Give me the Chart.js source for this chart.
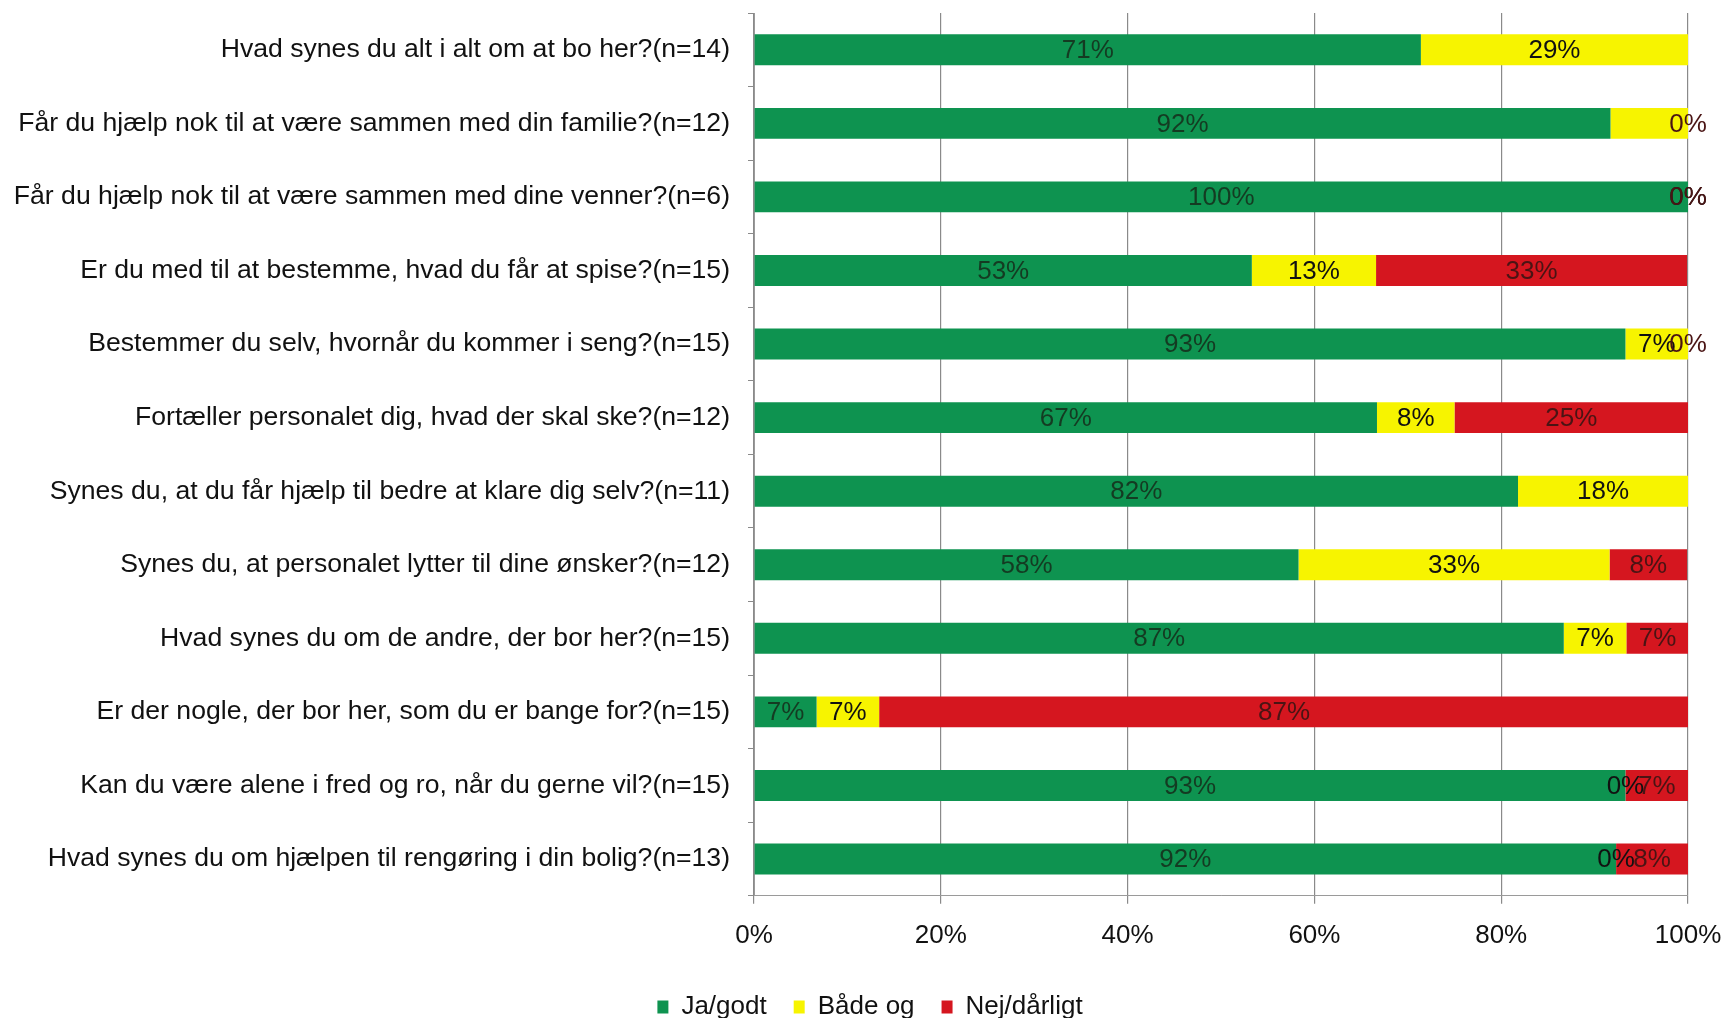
<!DOCTYPE html>
<html>
<head>
<meta charset="utf-8">
<script src="https://cdn.jsdelivr.net/npm/chart.js@4"></script>
<style>
  html, body { margin: 0; padding: 0; background: #fff; }
  #wrap { width: 1725px; height: 1018px; }
</style>
</head>
<body>
<div id="wrap"><canvas id="myCanvas" width="1725" height="1018"></canvas></div>
<script>
const questions = [
  'Hvad synes du alt i alt om at bo her?(n=14)',
  'Får du hjælp nok til at være sammen med din familie?(n=12)',
  'Får du hjælp nok til at være sammen med dine venner?(n=6)',
  'Er du med til at bestemme, hvad du får at spise?(n=15)',
  'Bestemmer du selv, hvornår du kommer i seng?(n=15)',
  'Fortæller personalet dig, hvad der skal ske?(n=12)',
  'Synes du, at du får hjælp til bedre at klare dig selv?(n=11)',
  'Synes du, at personalet lytter til dine ønsker?(n=12)',
  'Hvad synes du om de andre, der bor her?(n=15)',
  'Er der nogle, der bor her, som du er bange for?(n=15)',
  'Kan du være alene i fred og ro, når du gerne vil?(n=15)',
  'Hvad synes du om hjælpen til rengøring i din bolig?(n=13)'
];

const jaGodt    = [71.4, 91.7, 100, 53.3, 93.3, 66.7, 81.8, 58.3, 86.7, 6.7, 93.3, 92.3];
const badeOg    = [28.6, 8.3, 0, 13.3, 6.7, 8.3, 18.2, 33.3, 6.7, 6.7, 0, 0];
const nejDarlig = [null, 0, 0, 33.3, 0, 25, null, 8.3, 6.7, 86.7, 6.7, 7.7];

// labels that are not printed in the original ([dataset, row])
const hiddenLabels = [[1, 1]];

const xTicks = [0, 20, 40, 60, 80, 100];

const fontFam = '"Liberation Sans", Arial, sans-serif';
const fontSize = 26;
const catFontSize = 26.6;

const labelColors = ['#143b22', '#111111', '#4a1414'];

const barLabels = {
  id: 'barLabels',
  afterDatasetsDraw(chart) {
    const ctx = chart.ctx;
    ctx.save();
    ctx.font = fontSize + 'px ' + fontFam;
    ctx.textAlign = 'center';
    ctx.textBaseline = 'middle';
    chart.data.datasets.forEach((ds, di) => {
      const meta = chart.getDatasetMeta(di);
      meta.data.forEach((el, i) => {
        const v = ds.data[i];
        if (v === null || v === undefined) return;
        if (hiddenLabels.some(h => h[0] === di && h[1] === i)) return;
        const p = el.getCenterPoint();
        ctx.fillStyle = labelColors[di];
        ctx.fillText(Math.round(v) + '%', p.x, p.y + 1);
      });
    });
    ctx.restore();
  }
};

// nudge the legend a bit right, the original sits off-centre
const legendShift = {
  id: 'legendShift',
  afterLayout(chart) {
    if (!chart.legend) return;
    chart.legend.left += 26;
    chart.legend.right += 26;
  }
};

const ctx = document.getElementById('myCanvas').getContext('2d');
new Chart(ctx, {
  type: 'bar',
  data: {
    labels: questions,
    datasets: [
      { label: 'Ja/godt', data: jaGodt, backgroundColor: '#0e9350' },
      { label: 'Både og', data: badeOg, backgroundColor: '#f7f400' },
      { label: 'Nej/dårligt', data: nejDarlig, backgroundColor: '#d5161f' }
    ]
  },
  options: {
    indexAxis: 'y',
    responsive: false,
    animation: false,
    barPercentage: 0.42,
    categoryPercentage: 1,
    layout: { padding: { top: 13, right: 37, left: 0, bottom: -12 } },
    scales: {
      x: {
        stacked: true,
        min: 0,
        max: 100,
        afterBuildTicks: (scale) => { scale.ticks = xTicks.map(v => ({ value: v })); },
        afterFit: (scale) => { scale.paddingLeft = 0; scale.paddingRight = 0; },
        ticks: {
          callback: (v) => v + '%',
          color: '#111',
          font: { family: fontFam, size: fontSize },
          padding: 16,
          maxRotation: 0
        },
        grid: { color: '#8a8a8a', lineWidth: 1.2, tickLength: 8 },
        border: { color: '#9a9a9a' }
      },
      y: {
        stacked: true,
        afterFit: (scale) => {
          scale.width = 754;
          scale.paddingTop = 0;
          scale.paddingBottom = 0;
        },
        ticks: {
          color: '#111',
          font: { family: fontFam, size: catFontSize },
          padding: 18
        },
        grid: { drawOnChartArea: false, color: '#8a8a8a', tickLength: 6, offset: true },
        border: { color: '#9a9a9a' }
      }
    },
    plugins: {
      legend: {
        position: 'bottom',
        labels: {
          boxWidth: 11,
          boxHeight: 13,
          color: '#111',
          padding: 27,
          font: { family: fontFam, size: fontSize }
        }
      },
      tooltip: { enabled: false }
    }
  },
  plugins: [barLabels, legendShift]
});
</script>
</body>
</html>
